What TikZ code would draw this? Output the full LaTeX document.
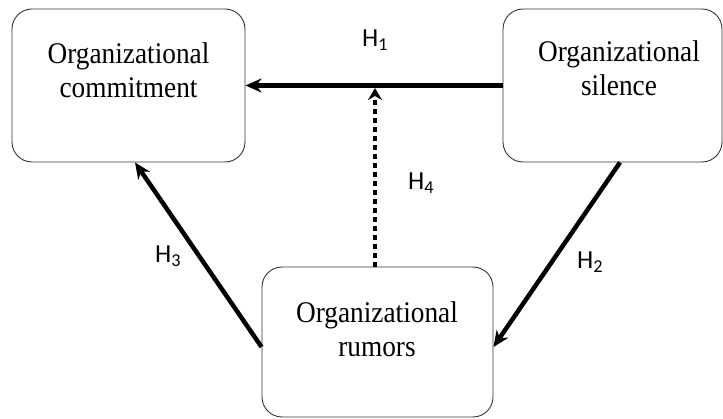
\documentclass[tikz,border=0pt]{standalone}
\usepackage{fontspec}
\setmainfont{Liberation Serif}[FakeStretch=0.91]
\newfontfamily\hfont{Carlito}
\usetikzlibrary{arrows.meta}
\begin{document}
\begin{tikzpicture}[x=1pt,y=1pt,
  box/.style={draw=black!80, line width=0.9pt, rounded corners=20pt, inner sep=0pt},
  txt/.style={font=\fontsize{30}{34}\selectfont, align=center, inner sep=0pt, anchor=north},
  hlab/.style={font=\hfont\fontsize{26}{30}\selectfont, inner sep=0pt, anchor=base west},
  arr/.style={line width=4.5pt, -{Stealth[length=16pt,width=14pt,inset=5pt]}},
  dotarr/.style={line width=4pt, dash pattern=on 4.5pt off 4.5pt, -{Stealth[length=12pt,width=14pt,inset=4pt]}}]
\useasboundingbox (0,0) rectangle (723,418);
\node[box, minimum width=233pt, minimum height=153pt] (A) at (128.5,332.5) {};
\node[box, minimum width=219pt, minimum height=153pt] (S) at (612.5,332.5) {};
\node[box, minimum width=231pt, minimum height=150pt] (R) at (377.5,76) {};
\node[txt] (At) at (128.5,376) {Organizational\\commitment};
\node[txt] (St) at (619,378) {Organizational\\silence};
\node[txt] (Rt) at (377,117) {Organizational\\rumors};
\coordinate (h4) at (375,330);
\draw[arr] (S.west) -- (A.east);
\draw[dotarr] ([xshift=-2.5pt]R.north) -- (h4);
\draw[arr] ([yshift=-5pt]R.west) -- ([xshift=6.5pt]A.south);
\draw[arr] ([xshift=7.5pt]S.south) -- ([yshift=-5pt]R.east);
\node[hlab] (H1) at (362,371) {H\textsubscript{1}};
\node[hlab] (H4) at (408,228) {H\textsubscript{4}};
\node[hlab] (H3) at (155,155) {H\textsubscript{3}};
\node[hlab] (H2) at (577,149) {H\textsubscript{2}};
\end{tikzpicture}
\end{document}
